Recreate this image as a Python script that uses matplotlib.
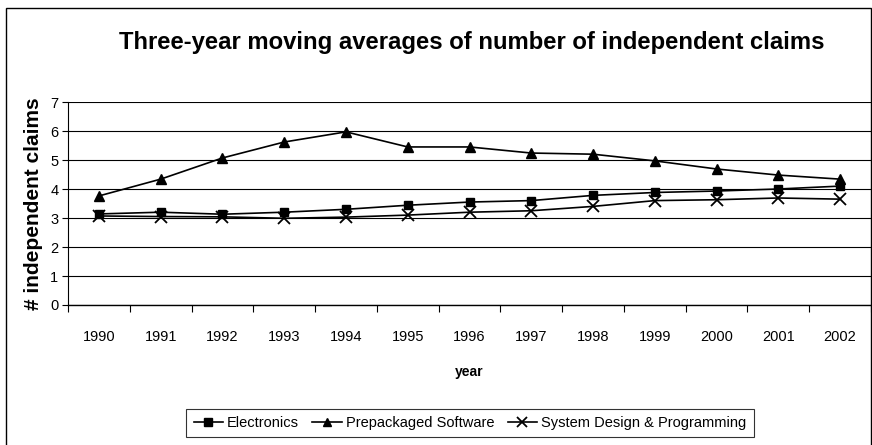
import numpy as np
import matplotlib.pyplot as plt
from matplotlib.patches import Rectangle

plt.rcParams['font.family'] = ['Liberation Sans', 'DejaVu Sans']

# data
years = [str(y) for y in range(1990, 2003)]
electronics = [3.14, 3.20, 3.13, 3.20, 3.30, 3.44, 3.55, 3.60, 3.78, 3.88, 3.93, 4.00, 4.10]
prepackaged = [3.76, 4.34, 5.07, 5.62, 5.97, 5.45, 5.45, 5.24, 5.20, 4.97, 4.69, 4.48, 4.34]
system_design = [3.07, 3.05, 3.04, 2.99, 3.03, 3.10, 3.20, 3.25, 3.40, 3.60, 3.63, 3.69, 3.65]

fig = plt.figure(figsize=(8.72, 4.45), dpi=100)
ax = fig.add_axes([68 / 872, 1 - 305 / 445, (871 - 68) / 872, (305 - 102) / 445])

x = np.arange(len(years))
ax.plot(x, electronics, color='black', lw=1.2, marker='s', ms=6, label='Electronics')
ax.plot(x, prepackaged, color='black', lw=1.2, marker='^', ms=7, label='Prepackaged Software')
ax.plot(x, system_design, color='black', lw=1.2, marker='x', ms=8, mew=1.3,
        label='System Design & Programming')

ax.set_xlim(-0.5, len(years) - 0.5)
ax.set_ylim(0, 7)
ax.set_yticks(range(0, 8))
ax.tick_params(axis='y', labelsize=10.5, length=4, width=0.8, pad=3)
ax.set_xticks(x)
ax.set_xticklabels(years)
ax.set_xticks(np.arange(-0.5, len(years)), minor=True)
ax.tick_params(axis='x', which='major', length=0, labelsize=10.5, pad=18)
ax.tick_params(axis='x', which='minor', length=5, width=0.8)
ax.grid(axis='y', color='black', lw=0.8)
ax.set_axisbelow(True)
ax.spines['right'].set_visible(False)
ax.spines['top'].set_visible(False)
ax.spines['left'].set_linewidth(0.8)
ax.spines['bottom'].set_linewidth(1.0)

ax.set_xlabel('year', fontsize=10, fontweight='bold', labelpad=15)
ax.set_ylabel('# independent claims', fontsize=15, fontweight='bold', labelpad=5)
fig.text(472 / 872, 1 - 42 / 445, 'Three-year moving averages of number of independent claims',
         ha='center', va='center', fontsize=17.2, fontweight='bold')

leg = fig.legend(loc='center', bbox_to_anchor=(470 / 872, 1 - 423 / 445), ncol=3, fontsize=10.5,
                 frameon=True, fancybox=False, edgecolor='black', handlelength=2.0,
                 handletextpad=0.3, columnspacing=0.9, borderpad=0.5, markerscale=0.85)
leg.get_frame().set_linewidth(0.8)

# outer chart frame
fig.patches.append(Rectangle((6 / 872, -0.01), (871 - 6) / 872, 1 - 8 / 445 + 0.01,
                             transform=fig.transFigure, fill=False, edgecolor='black', lw=1))

fig.savefig('out.png', dpi=100)
